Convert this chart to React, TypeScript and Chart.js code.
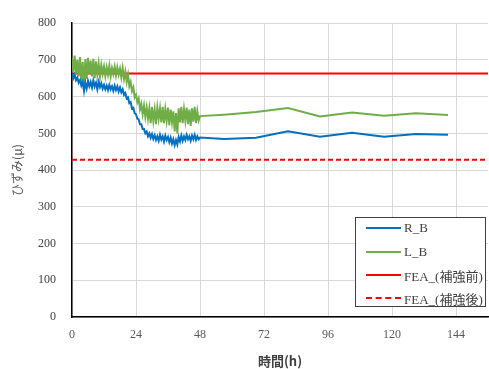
import React, { useEffect, useRef } from "react";
import { Chart, registerables } from "chart.js";

Chart.register(...registerables);

// Dense measurement period (hours)
const timesDense = [
  0, 0.5, 1, 1.5, 2, 2.5, 3, 3.5, 4, 4.5, 5, 5.5, 6, 6.5, 7, 7.5, 8, 8.5, 9, 9.5,
  10, 10.5, 11, 11.5, 12, 12.5, 13, 13.5, 14, 14.5, 15, 15.5, 16, 16.5, 17, 17.5,
  18, 18.5, 19, 19.5, 20, 20.5, 21, 21.5, 22, 22.5, 23, 23.5, 24, 24.5, 25, 25.5,
  26, 26.5, 27, 27.5, 28, 28.5, 29, 29.5, 30, 30.5, 31, 31.5, 32, 32.5, 33, 33.5,
  34, 34.5, 35, 35.5, 36, 36.5, 37, 37.5, 38, 38.5, 39, 39.5, 40, 40.5, 41, 41.5,
  42, 42.5, 43, 43.5, 44, 44.5, 45, 45.5, 46, 46.5, 47, 47.5, 48,
];

const rbDense = [
  662, 650, 660, 645, 652, 638, 645, 630, 640, 615, 638, 622, 642, 628, 640, 625, 644, 628, 638, 620,
  640, 626, 636, 622, 632, 620, 630, 618, 632, 620, 628, 616, 630, 618, 628, 614,
  625, 612, 620, 605, 610, 595, 598, 582, 585, 568, 570, 555, 552, 540, 538, 525,
  525, 512, 512, 500, 505, 492, 500, 488, 498, 485, 495, 482, 492, 480, 496, 483,
  492, 478, 494, 482, 490, 476, 488, 472, 484, 468, 482, 470, 490, 478, 494, 480,
  492, 482, 496, 484, 492, 480, 494, 484, 496, 482, 492, 484, 489,
];

const lbDense = [
  705, 668, 712, 662, 700, 655, 708, 640, 695, 622, 702, 648, 706, 662, 698, 655, 703, 650, 696, 660,
  690, 655, 686, 662, 682, 656, 680, 660, 684, 655, 678, 662, 682, 658, 680, 660,
  676, 652, 678, 648, 668, 640, 660, 628, 640, 615, 625, 598, 605, 585, 595, 565,
  580, 552, 575, 545, 570, 540, 568, 528, 572, 535, 565, 525, 570, 540, 568, 530,
  572, 528, 566, 535, 570, 522, 565, 530, 560, 505, 555, 500, 568, 530, 572, 528,
  566, 535, 570, 525, 565, 520, 568, 532, 572, 528, 560, 535, 547,
];

// Sparse measurement period (hours)
const timesSparse = [57, 69, 81, 93, 105, 117, 129, 141];
const rbSparse = [485, 488, 506, 491, 502, 491, 498, 496];
const lbSparse = [551, 558, 569, 546, 557, 548, 555, 550];

// FEA reference values
const feaBefore = 663;
const feaAfter = 428;
const feaTimes = [0, 156];

const xMin = 0;
const xMax = 156;
const xStep = 24;
const yMin = 0;
const yMax = 800;
const yStep = 100;

const seriesNames = ["R_B", "L_B", "FEA_(補強前)", "FEA_(補強後)"];
const seriesColors = ["#0070C0", "#70AD47", "#FF0000", "#FF0000"];

const toPoints = (xs: number[], ys: number[]) => xs.map((x, i) => ({ x, y: ys[i] }));

export default function App() {
  const canvasRef = useRef<HTMLCanvasElement | null>(null);

  useEffect(() => {
    document.body.style.margin = "0";
    const canvas = canvasRef.current;
    if (!canvas) return;
    const rb = toPoints(timesDense, rbDense).concat(toPoints(timesSparse, rbSparse));
    const lb = toPoints(timesDense, lbDense).concat(toPoints(timesSparse, lbSparse));
    const chart = new Chart(canvas, {
      type: "line",
      data: {
        datasets: [
          {
            label: seriesNames[0],
            data: rb,
            borderColor: seriesColors[0],
            borderWidth: 2,
            pointRadius: 0,
            tension: 0,
          },
          {
            label: seriesNames[1],
            data: lb,
            borderColor: seriesColors[1],
            borderWidth: 2,
            pointRadius: 0,
            tension: 0,
          },
          {
            label: seriesNames[2],
            data: feaTimes.map((x) => ({ x, y: feaBefore })),
            borderColor: seriesColors[2],
            borderWidth: 2,
            pointRadius: 0,
          },
          {
            label: seriesNames[3],
            data: feaTimes.map((x) => ({ x, y: feaAfter })),
            borderColor: seriesColors[3],
            borderWidth: 2,
            borderDash: [5, 3],
            pointRadius: 0,
          },
        ],
      },
      options: {
        responsive: false,
        animation: false,
        parsing: false,
        normalized: true,
        layout: { padding: { left: 0, top: 18, right: 1, bottom: 0 } },
        plugins: { legend: { display: false }, tooltip: { enabled: false } },
        scales: {
          x: {
            type: "linear",
            min: xMin,
            max: xMax,
            afterFit: (s: any) => {
              s.height = 52;
            },
            ticks: {
              stepSize: xStep,
              includeBounds: false,
              padding: 11,
              color: "#595959",
              font: { family: "'Liberation Serif', serif", size: 12 },
            },
            grid: { color: "#d9d9d9", drawTicks: false, lineWidth: 1 },
            border: { color: "#000000", width: 1.5 },
            title: {
              display: true,
              text: "時間(h)",
              color: "#404040",
              font: { family: "'Noto Sans CJK JP', sans-serif", size: 13, weight: "bold" },
              padding: { top: 0, bottom: 0 },
            },
          },
          y: {
            type: "linear",
            min: yMin,
            max: yMax,
            afterFit: (s: any) => {
              s.width = 72;
            },
            ticks: {
              stepSize: yStep,
              padding: 16,
              color: "#404040",
              font: { family: "'Liberation Serif', serif", size: 12 },
            },
            grid: { color: "#d9d9d9", drawTicks: false, lineWidth: 1 },
            border: { color: "#000000", width: 1.5 },
            title: {
              display: true,
              text: "ひずみ(μ)",
              color: "#595959",
              font: { family: "'Noto Sans CJK JP', sans-serif", size: 12 },
              padding: { top: 10, bottom: 0 },
            },
          },
        },
      },
    });
    return () => chart.destroy();
  }, []);

  const rowTops = [218, 242, 265, 288];

  return (
    <div style={{ position: "absolute", left: 0, top: 0, width: 489, height: 369, background: "#fff" }}>
      <canvas ref={canvasRef} width={489} height={369} style={{ display: "block" }} />
      <div
        style={{
          position: "absolute",
          left: 355,
          top: 217,
          width: 131,
          height: 90,
          border: "1px solid #404040",
          background: "#ffffff",
          boxSizing: "border-box",
        }}
      />
      {seriesNames.map((name, i) => (
        <div
          key={name}
          style={{
            position: "absolute",
            left: 366,
            top: rowTops[i],
            height: 20,
            display: "flex",
            alignItems: "center",
            fontFamily: "'Liberation Serif', 'Noto Sans CJK JP', serif",
            fontSize: 13,
            color: "#404040",
            whiteSpace: "nowrap",
          }}
        >
          <span
            style={{
              display: "inline-block",
              width: 35,
              height: 0,
              borderTop: `2px ${i === 3 ? "dashed" : "solid"} ${seriesColors[i]}`,
              marginRight: 3,
            }}
          />
          <span>{name}</span>
        </div>
      ))}
    </div>
  );
}
